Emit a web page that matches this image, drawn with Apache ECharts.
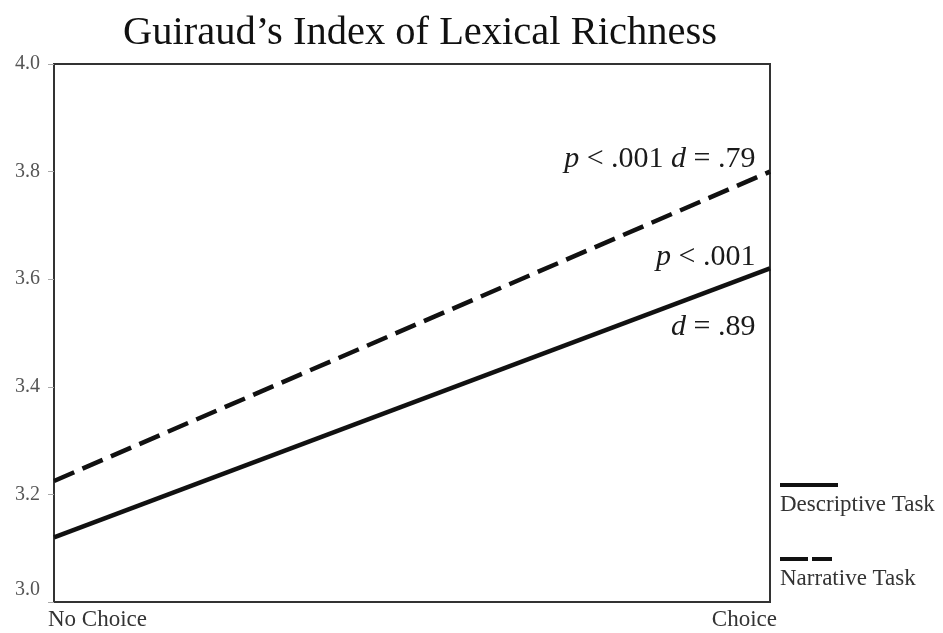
<!DOCTYPE html>
<html>
<head>
<meta charset="utf-8">
<script src="https://cdn.jsdelivr.net/npm/echarts@6/dist/echarts.min.js"></script>
<style>
  html, body { margin: 0; padding: 0; background: #fff; }
  #chart { width: 943px; height: 633px; }
</style>
</head>
<body>
<div id="chart"></div>
<script>
// data
const categories = ["No Choice", "Choice"];
const descriptive = [3.12, 3.62];
const narrative = [3.225, 3.8];
const yTicks = { min: 3.0, max: 4.0, step: 0.2 };

const serif = "'Liberation Serif', 'DejaVu Serif', serif";

let chart = echarts.init(document.getElementById("chart"));

let option = {
  backgroundColor: "#fff",
  animation: false,
  title: {
    text: "Guiraud\u2019s Index of Lexical Richness",
    left: 415,
    top: 8,
    textAlign: "center",
    textStyle: {
      fontFamily: serif,
      fontSize: 40.5,
      fontWeight: "normal",
      color: "#111",
    },
  },
  grid: {
    left: 54,
    right: 173,
    top: 64,
    bottom: 31,
    show: true,
    borderColor: "#333",
    borderWidth: 2,
  },
  xAxis: {
    type: "category",
    data: categories,
    boundaryGap: false,
    axisLine: { show: true, lineStyle: { color: "#333", width: 2 } },
    axisTick: { show: false },
    splitLine: { show: false },
    axisLabel: {
      margin: 6,
      fontFamily: serif,
      fontSize: 23,
      color: "#333",
      alignMinLabel: "left",
      alignMaxLabel: "right",
      formatter: function (v) {
        if (v === categories[0]) return "{l|" + v + "}";
        return "{r|" + v + "}";
      },
      rich: {
        l: { fontFamily: serif, fontSize: 23, color: "#333", padding: [0, 0, 0, -6] },
        r: { fontFamily: serif, fontSize: 23, color: "#333", padding: [0, -7, 0, 0] },
      },
    },
  },
  yAxis: {
    type: "value",
    min: yTicks.min,
    max: yTicks.max,
    interval: yTicks.step,
    axisLine: { show: true, lineStyle: { color: "#333", width: 2 } },
    axisTick: { show: true, length: 6, lineStyle: { color: "#aaa", width: 1 } },
    splitLine: { show: false },
    axisLabel: {
      margin: 14,
      fontFamily: serif,
      fontSize: 20,
      color: "#555",
      formatter: function (v) {
        //最小刻度往上挪，避开x轴文字
        if (Math.abs(v - yTicks.min) < 1e-6) return "{lo|" + v.toFixed(1) + "}";
        return v.toFixed(1);
      },
      rich: {
        lo: {
          fontFamily: serif,
          fontSize: 20,
          color: "#555",
          padding: [0, 0, 24, 0],
        },
      },
    },
  },
  series: [
    {
      name: "Descriptive Task",
      type: "line",
      data: descriptive,
      symbol: "none",
      lineStyle: { color: "#111", width: 4.5 },
      markPoint: {
        symbol: "circle",
        symbolSize: 1,
        itemStyle: { color: "transparent" },
        data: [{ coord: [categories[1], descriptive[1]] }],
        label: {
          show: true,
          position: "left",
          distance: 14,
          offset: [0, 24],
          align: "right",
          formatter: "{i|p} < .001\n\n{i|d} = .89",
          fontFamily: serif,
          fontSize: 30,
          lineHeight: 35,
          color: "#1a1a1a",
          rich: {
            i: { fontFamily: serif, fontSize: 30, fontStyle: "italic", color: "#1a1a1a", lineHeight: 35 },
          },
        },
      },
    },
    {
      name: "Narrative Task",
      type: "line",
      data: narrative,
      symbol: "none",
      lineStyle: { color: "#111", width: 4.5, type: [22, 9] },
      markPoint: {
        symbol: "circle",
        symbolSize: 1,
        itemStyle: { color: "transparent" },
        data: [{ coord: [categories[1], narrative[1]] }],
        label: {
          show: true,
          position: "left",
          distance: 14,
          offset: [0, -12],
          align: "right",
          formatter: "{i|p} < .001 {i|d} = .79",
          fontFamily: serif,
          fontSize: 30,
          color: "#1a1a1a",
          rich: {
            i: { fontFamily: serif, fontSize: 30, fontStyle: "italic", color: "#1a1a1a" },
          },
        },
      },
    },
  ],
  // legend drawn by hand: sample line above the text
  graphic: [
    {
      type: "line",
      shape: { x1: 780, y1: 485, x2: 838, y2: 485 },
      style: { stroke: "#111", lineWidth: 4 },
    },
    {
      type: "text",
      left: 780,
      top: 493,
      style: { text: "Descriptive Task", font: "23px " + serif, fill: "#333" },
    },
    {
      type: "line",
      shape: { x1: 780, y1: 559, x2: 834, y2: 559 },
      style: { stroke: "#111", lineWidth: 4, lineDash: [28, 4, 20, 4] },
    },
    {
      type: "text",
      left: 780,
      top: 567,
      style: { text: "Narrative Task", font: "23px " + serif, fill: "#333" },
    },
  ],
};

chart.setOption(option);
</script>
</body>
</html>
